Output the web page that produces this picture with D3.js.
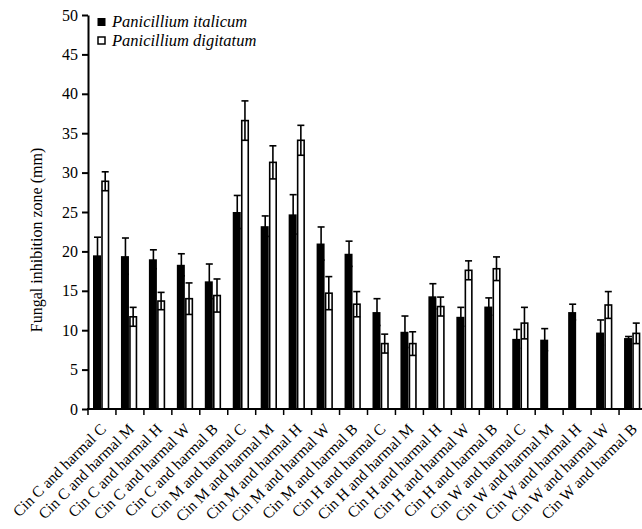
<!DOCTYPE html>
<html>
<head>
<meta charset="utf-8">
<script src="https://cdn.jsdelivr.net/npm/d3@7"></script>
<style>
  body { margin: 0; background: #fff; }
  svg text { font-family: "Liberation Serif", "Times New Roman", serif; fill: #000; }
</style>
</head>
<body>
<script>
var width = 642;
var height = 529;

// categories and values
var categories = [
  "Cin C and harmal C", "Cin C and harmal M", "Cin C and harmal H", "Cin C and harmal W", "Cin C and harmal B",
  "Cin M and harmal C", "Cin M and harmal M", "Cin M and harmal H", "Cin M and harmal W", "Cin M and harmal B",
  "Cin H and harmal C", "Cin H and harmal M", "Cin H and harmal H", "Cin H and harmal W", "Cin H and harmal B",
  "Cin W and harmal C", "Cin W and harmal M", "Cin W and harmal H", "Cin W and harmal W", "Cin W and harmal B"
];
var italicum = [19.5, 19.4, 19.0, 18.3, 16.2, 25.0, 23.2, 24.7, 21.0, 19.7, 12.3, 9.8, 14.3, 11.7, 13.0, 8.9, 8.8, 12.3, 9.7, 9.0];
var italicumErr = [2.3, 2.3, 1.2, 1.4, 2.2, 2.1, 1.3, 2.5, 2.1, 1.6, 1.7, 2.0, 1.6, 1.2, 1.1, 1.2, 1.4, 1.0, 1.6, 0.2];
var digitatum = [28.9, 11.7, 13.7, 14.0, 14.4, 36.6, 31.3, 34.1, 14.7, 13.3, 8.3, 8.3, 13.0, 17.6, 17.8, 10.9, null, null, 13.2, 9.6];
var digitatumErr = [1.2, 1.2, 1.1, 2.0, 2.1, 2.5, 2.1, 1.9, 2.1, 1.6, 1.2, 1.5, 1.2, 1.2, 1.5, 2.0, null, null, 1.7, 1.3];
var yTicks = [0, 5, 10, 15, 20, 25, 30, 35, 40, 45, 50];
var seriesNames = ["Panicillium italicum", "Panicillium digitatum"];

var frame = d3.select("body").append("svg")
            .attr("width", width)
            .attr("height", height);

var x = d3.scaleBand().domain(categories).range([88, 647]).padding(0);
var y = d3.scaleLinear().domain([0, 50]).range([409, 15]);

var bw = x.bandwidth();

//black bars
frame.selectAll(".bar-it").data(italicum).enter().append("rect")
  .attr("x", function(d, i){ return x(categories[i]) + 5; })
  .attr("y", function(d){ return y(d); })
  .attr("width", 8)
  .attr("height", function(d){ return y(0) - y(d); })
  .attr("fill", "#000");

//white bars
var digi = digitatum.map(function(d, i){ return {v: d, e: digitatumErr[i], c: categories[i]}; })
                    .filter(function(d){ return d.v != null; });

frame.selectAll(".bar-dg").data(digi).enter().append("rect")
  .attr("x", function(d){ return x(d.c) + 14; })
  .attr("y", function(d){ return y(d.v); })
  .attr("width", 6.5)
  .attr("height", function(d){ return y(0) - y(d.v); })
  .attr("fill", "#fff")
  .attr("stroke", "#000")
  .attr("stroke-width", 1.6);

//error bars
function errorBars(list, offset) {
  var g = frame.append("g").attr("stroke", "#000").attr("stroke-width", 1.6);
  list.forEach(function(d) {
    var cx = x(d.c) + offset;
    var top = y(d.v + d.e), bot = y(d.v - d.e);
    g.append("line").attr("x1", cx).attr("x2", cx).attr("y1", top).attr("y2", bot);
    g.append("line").attr("x1", cx - 3.5).attr("x2", cx + 3.5).attr("y1", top).attr("y2", top);
    g.append("line").attr("x1", cx - 3.5).attr("x2", cx + 3.5).attr("y1", bot).attr("y2", bot);
  });
}
errorBars(italicum.map(function(d, i){ return {v: d, e: italicumErr[i], c: categories[i]}; }), 9.5);
errorBars(digi, 17.2);

//y axis
var yAxis = frame.append("g")
  .attr("transform", "translate(88,0)")
  .call(d3.axisLeft(y).tickValues(yTicks).tickSize(6).tickPadding(4).tickSizeOuter(0));
yAxis.select(".domain").attr("stroke-width", 2);
yAxis.selectAll(".tick line").attr("stroke-width", 2);
yAxis.selectAll("text").style("font-size", "16px").style("font-family", "Liberation Serif, serif");

//x axis with ticks at the category boundaries
frame.append("line")
  .attr("x1", 87).attr("x2", width)
  .attr("y1", y(0)).attr("y2", y(0))
  .attr("stroke", "#000").attr("stroke-width", 2);
frame.selectAll(".xtick").data(categories).enter().append("line")
  .attr("x1", function(d){ return x(d); })
  .attr("x2", function(d){ return x(d); })
  .attr("y1", y(0)).attr("y2", y(0) + 6)
  .attr("stroke", "#000").attr("stroke-width", 1.5);
frame.selectAll(".xlabel").data(categories).enter().append("text")
  .attr("transform", function(d){ return "translate(" + (x(d) + bw / 2 + 5) + "," + (y(0) + 21) + ") rotate(-45)"; })
  .attr("text-anchor", "end")
  .style("font-size", "15.5px")
  .text(function(d){ return d; });

//y label
frame.append("text")
  .attr("transform", "translate(42,240) rotate(-90)")
  .attr("text-anchor", "middle")
  .style("font-size", "16px")
  .text("Fungal inhibition zone (mm)");

//legend
var legend = frame.append("g");
legend.append("rect").attr("x", 97.5).attr("y", 18).attr("width", 8).attr("height", 8).attr("fill", "#000");
legend.append("rect").attr("x", 98).attr("y", 37).attr("width", 7).attr("height", 7)
  .attr("fill", "#fff").attr("stroke", "#000").attr("stroke-width", 1.5);
legend.selectAll(".ltext").data(seriesNames).enter().append("text")
  .attr("x", 112)
  .attr("y", function(d, i){ return 27 + i * 19; })
  .style("font-size", "16.5px")
  .style("font-style", "italic")
  .text(function(d){ return d; });
</script>
</body>
</html>
